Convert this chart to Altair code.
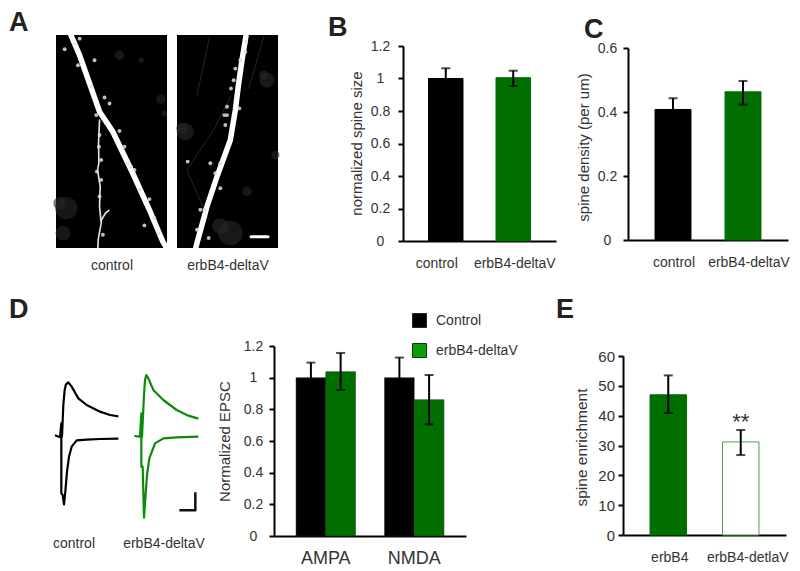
import altair as alt
import pandas as pd

FONT = "Liberation Sans"
TXT = "#333333"
GREEN = "#006f00"
W, H = 784, 559

# ---------- panel A: micrographs (zoomed picture units) ----------
a1_frame_x, a1_frame_y = [169, 503], [745, 104]
a1_main_x = [212, 240, 270, 300, 340, 400, 450, 490, 505]
a1_main_y = [100, 165, 250, 335, 395, 520, 630, 725, 750]
a1_thin_x = [300, 297, 298, 294, 302, 300, 305, 296, 295]
a1_thin_y = [360, 430, 490, 510, 560, 620, 670, 720, 745]
a1_branch_x = [305, 318, 328]
a1_branch_y = [662, 640, 632]
a1_sp_x = [195, 240, 285, 235, 315, 290, 360, 385, 405, 450, 465, 435, 300, 305, 305, 300, 310, 420, 375, 275, 330, 225, 395, 478, 298, 292]
a1_sp_y = [147, 115, 180, 195, 292, 345, 393, 490, 510, 598, 655, 677, 405, 480, 540, 590, 705, 570, 440, 260, 310, 130, 500, 700, 440, 515]
a1_blob_x = [200, 485, 360, 190, 425, 180, 495]
a1_blob_y = [625, 297, 165, 700, 180, 610, 340]
a1_blob_s = [500, 90, 90, 220, 30, 160, 30]

a2_frame_x, a2_frame_y = [530, 833], [745, 104]
a2_main_x = [738, 725, 715, 705, 690, 650, 620, 590, 585]
a2_main_y = [100, 180, 250, 330, 420, 530, 620, 730, 750]
a2_sp_x = [738, 735, 720, 705, 692, 680, 680, 675, 717, 660, 645, 660, 612, 590, 625, 562, 630, 700, 672, 600]
a2_sp_y = [125, 155, 180, 205, 265, 320, 345, 375, 325, 490, 520, 565, 630, 690, 715, 485, 490, 240, 345, 630]
a2_blob_x = [555, 800, 690, 740, 825, 790, 545, 660]
a2_blob_y = [395, 240, 700, 575, 465, 225, 385, 680]
a2_blob_s = [300, 220, 600, 90, 70, 90, 130, 260]
a2_f1_x, a2_f1_y = [628, 590], [110, 285]
a2_f2_x, a2_f2_y = [690, 640, 560], [290, 390, 510]
a2_f3_x, a2_f3_y = [790, 745], [110, 265]
a2_f4_x, a2_f4_y = [560, 625], [510, 660]
a2_bar_x, a2_bar_y = [752, 803], [711, 711]

# ---------- panel B / C ----------
cond = ["control", "erbB4-deltaV"]
b_val, b_lo, b_hi = [1.0, 1.005], [0.94, 0.954], [1.063, 1.048]
c_val, c_lo, c_hi = [0.408, 0.463], [0.373, 0.423], [0.443, 0.497]
b_ticks = [0, 0.2, 0.4, 0.6, 0.8, 1, 1.2]
c_ticks = [0, 0.2, 0.4, 0.6]

# ---------- panel D traces (zoomed picture units) ----------
tr_ctl_up_x = [165, 180, 184, 186, 190, 194, 198, 205, 215, 235, 260, 300, 330, 355]
tr_ctl_up_y = [421, 427, 385, 425, 330, 285, 268, 262, 275, 310, 330, 350, 360, 364]
tr_ctl_dn_x = [184, 184, 188, 192, 196, 201, 207, 215, 230, 260, 300, 355]
tr_ctl_dn_y = [425, 595, 600, 628, 590, 530, 485, 455, 436, 434, 432, 431]
tr_erb_up_x = [403, 420, 424, 426, 432, 435, 439, 445, 460, 490, 530, 565, 595]
tr_erb_up_y = [423, 425, 355, 425, 300, 255, 240, 250, 285, 315, 345, 362, 371]
tr_erb_dn_x = [424, 424, 428, 432, 436, 441, 448, 465, 490, 530, 595]
tr_erb_dn_y = [425, 515, 515, 668, 610, 540, 490, 445, 430, 427, 425]
sc_x, sc_y = [538, 586, 586], [646, 646, 592]

# ---------- panel D bars ----------
receptor = ["AMPA", "AMPA", "NMDA", "NMDA"]
d_group = ["Control", "erbB4-deltaV", "Control", "erbB4-deltaV"]
d_val = [1.0, 1.038, 1.0, 0.861]
d_lo = [0.905, 0.922, 0.875, 0.705]
d_hi = [1.095, 1.156, 1.127, 1.017]

# ---------- panel E ----------
e_cat = ["erbB4", "erbB4-detlaV"]
e_val, e_lo, e_hi = [47.0, 31.2], [40.9, 26.8], [53.5, 35.2]
e_ticks = [0, 10, 20, 30, 40, 50, 60]
star_y = [39]

blank = pd.DataFrame({"a": [0]})


def px(p):
    """page x/y position -> view position (8px page margin)"""
    return p - 8


def label(text, x, y, size=14, color=TXT, weight="normal", align="center", baseline="middle"):
    return alt.Chart(blank).mark_text(text=text, font=FONT, fontSize=size, color=color,
                                      fontWeight=weight, align=align, baseline=baseline).encode(
        x=alt.value(px(x)), y=alt.value(px(y)))


def letter(text, x, y, size=27):
    return label(text, x, y, size=size, color="#222222", weight="bold", align="left", baseline="alphabetic")


def micro(xdom, ydom, xr, yr, title, series):
    xs = alt.Scale(domain=xdom, nice=False, zero=False, range=[px(xr[0]), px(xr[1])])
    ys = alt.Scale(domain=ydom, nice=False, zero=False, range=[px(yr[0]), px(yr[1])])
    frame = pd.DataFrame({"x": [xdom[0]], "x2": [xdom[1]], "y": [ydom[0]], "y2": [ydom[1]]})
    layers = [alt.Chart(frame).mark_rect(color="black").encode(
        x=alt.X("x:Q", scale=xs, axis=alt.Axis(orient="bottom", title=title, labels=False, ticks=False, domain=False, grid=False,
                                               offset=px(yr[0]) - H, titlePadding=10, titleFont=FONT, titleColor=TXT,
                                               titleFontSize=14, titleFontWeight="normal")),
        x2="x2:Q", y=alt.Y("y:Q", scale=ys, axis=None), y2="y2:Q")]
    for kind, xv, yv, extra in series:
        d = pd.DataFrame({"x": xv, "y": yv, "i": range(len(xv))})
        if kind == "line":
            m = alt.Chart(d).mark_line(color=extra[0], strokeWidth=extra[1], clip=True, strokeCap="round", opacity=extra[2])
            enc = dict(order="i:Q")
        else:
            d["s"] = extra[1]
            m = alt.Chart(d).mark_circle(color=extra[0], opacity=extra[2], clip=True)
            enc = dict(size=alt.Size("s:Q", scale=None, legend=None))
        layers.append(m.encode(x=alt.X("x:Q", scale=xs), y=alt.Y("y:Q", scale=ys, axis=None), **enc))
    return layers


a1_series = [
    ("pts", a1_blob_x, a1_blob_y, ("#262626", a1_blob_s, 0.6)),
    ("line", a1_main_x, a1_main_y, ("white", 5.5, 1)),
    ("line", a1_thin_x, a1_thin_y, ("#e8e8e8", 1.6, 1)),
    ("line", a1_branch_x, a1_branch_y, ("#e8e8e8", 1.6, 1)),
    ("pts", a1_sp_x, a1_sp_y, ("#e0e0e0", [15] * len(a1_sp_x), 0.85)),
]
a2_series = [
    ("line", a2_f1_x, a2_f1_y, ("#262626", 1, 1)),
    ("line", a2_f2_x, a2_f2_y, ("#262626", 1, 1)),
    ("line", a2_f3_x, a2_f3_y, ("#262626", 1, 1)),
    ("line", a2_f4_x, a2_f4_y, ("#262626", 1, 1)),
    ("pts", a2_blob_x, a2_blob_y, ("#282828", a2_blob_s, 0.6)),
    ("line", a2_main_x, a2_main_y, ("white", 5.5, 1)),
    ("pts", a2_sp_x, a2_sp_y, ("#e0e0e0", [15] * len(a2_sp_x), 0.85)),
    ("line", a2_bar_x, a2_bar_y, ("white", 3, 1)),
]
panel_a1 = alt.layer(*micro(a1_frame_x, a1_frame_y, (56, 167), (248, 35), "control", a1_series))
panel_a2 = alt.layer(*micro(a2_frame_x, a2_frame_y, (177, 278), (248, 35), "erbB4-deltaV", a2_series))


def y_axis(ax_x, ticks, title, tx, ty, pad, align="center", size=14, tsize=15, fmt="~g"):
    return alt.Axis(orient="left", values=ticks, title=title, format=fmt, grid=False, tickSize=5, tickWidth=2,
                    offset=-px(ax_x), tickColor="black", domainColor="black", domainWidth=2, labelAlign=align,
                    labelBaseline="middle", labelPadding=pad, labelFontSize=size, labelFont=FONT,
                    labelColor=TXT, titleFont=FONT, titleFontSize=tsize, titleFontWeight="normal",
                    titleColor=TXT, titleX=tx, titleY=px(ty), titleBaseline="middle", labelFlush=False,
                    labelOverlap=False)


def x_axis(ax_y, offset_expr, size=14, pad=15):
    return alt.Axis(orient="bottom", title=None, ticks=False, grid=False, labelAngle=0, domainColor="black", domainWidth=2,
                    offset=px(ax_y) - H, labelFontSize=size, labelFont=FONT, labelColor=TXT, labelPadding=pad,
                    labelOffset=alt.expr(offset_expr) if offset_expr else 0)


def simple_bars(cats, val, lo, hi, ymax, xr, yr, ticks, title, tx, ty, pad, pi, po, off, fills, strokes,
                align="center", size=14, tsize=15, fmt="~g"):
    d = pd.DataFrame({"c": cats, "v": val, "lo": lo, "hi": hi})
    xs = alt.Scale(domain=cats, paddingInner=pi, paddingOuter=po, range=[px(xr[0]), px(xr[1])])
    ys = alt.Scale(domain=[0, ymax], nice=False, range=[px(yr[0]), px(yr[1])])
    base = alt.Chart(d)
    bars = base.mark_bar(strokeWidth=1).encode(
        x=alt.X("c:N", sort=cats, scale=xs, axis=x_axis(yr[0], off)),
        y=alt.Y("v:Q", scale=ys, axis=y_axis(xr[0], ticks, title, tx, ty, pad, align, size, tsize, fmt)),
        fill=alt.Fill("c:N", scale=alt.Scale(domain=cats, range=fills), legend=None),
        stroke=alt.Stroke("c:N", scale=alt.Scale(domain=cats, range=strokes), legend=None),
    )
    xe = alt.X("c:N", sort=cats, scale=xs)
    ye = lambda f: alt.Y(f, scale=ys)
    rule = base.mark_rule(color="black", strokeWidth=2).encode(x=xe, y=ye("lo:Q"), y2="hi:Q")
    cap1 = base.mark_tick(color="black", size=9, thickness=2).encode(x=xe, y=ye("lo:Q"))
    cap2 = base.mark_tick(color="black", size=9, thickness=2).encode(x=xe, y=ye("hi:Q"))
    return [bars, rule, cap1, cap2], xe, ye


b_layers, _, _ = simple_bars(cond, b_val, b_lo, b_hi, 1.2, (403, 556), (241, 46), b_ticks, "normalized spine size",
                             -47, 143, 18, 0.489, 0.378, "datum.value === 'control' ? -9 : 1.5",
                             ["black", GREEN], ["black", GREEN])
panel_b = alt.layer(*b_layers)

c_layers, _, _ = simple_bars(cond, c_val, c_lo, c_hi, 0.6, (628, 788), (240, 48), c_ticks, "spine density (per um)",
                             -45, 147, 16, 0.486, 0.386, "datum.value === 'control' ? 1 : 6",
                             ["black", GREEN], ["black", GREEN])
panel_c = alt.layer(*c_layers)

# traces
tx_scale = alt.Scale(domain=[168, 597], nice=False, zero=False, range=[px(56), px(199)])
ty_scale = alt.Scale(domain=[765, 153], nice=False, zero=False, range=[px(550), px(346)])


def trace(xv, yv, color, width=2.2):
    d = pd.DataFrame({"x": xv, "y": yv, "i": range(len(xv))})
    return alt.Chart(d).mark_line(color=color, strokeWidth=width, strokeJoin="round").encode(
        x=alt.X("x:Q", scale=tx_scale, axis=None), y=alt.Y("y:Q", scale=ty_scale, axis=None), order="i:Q")


panel_tr = alt.layer(
    trace(tr_ctl_up_x, tr_ctl_up_y, "black"),
    trace(tr_ctl_dn_x, tr_ctl_dn_y, "black"),
    trace(tr_erb_up_x, tr_erb_up_y, "#0b8a0b"),
    trace(tr_erb_dn_x, tr_erb_dn_y, "#0b8a0b"),
    trace(sc_x, sc_y, "#111111", 2.5),
)

# D bars
groups = ["Control", "erbB4-deltaV"]
dd = pd.DataFrame({"r": receptor, "g": d_group, "v": d_val, "lo": d_lo, "hi": d_hi})
d_xs = alt.Scale(domain=["AMPA", "NMDA"], paddingInner=0.328, paddingOuter=0.249, range=[px(274), px(466)])
d_off = alt.XOffset("g:N", scale=alt.Scale(domain=groups, paddingInner=0, paddingOuter=0))
d_ys = alt.Scale(domain=[0, 1.2], nice=False, range=[px(536), px(346)])
d_base = alt.Chart(dd)
d_bars = d_base.mark_bar(strokeWidth=1, stroke="#113311", strokeOpacity=0.5).encode(
    x=alt.X("r:N", scale=d_xs, axis=x_axis(536, None, size=18, pad=13)), xOffset=d_off,
    y=alt.Y("v:Q", scale=d_ys, axis=y_axis(274, [0, 0.2, 0.4, 0.6, 0.8, 1, 1.2], "Normalized EPSC", -50, 441, 16)),
    fill=alt.Fill("g:N", scale=alt.Scale(domain=groups, range=["black", GREEN]), legend=None),
)
d_x = alt.X("r:N", scale=d_xs)
d_rule = d_base.mark_rule(color="black", strokeWidth=2).encode(x=d_x, xOffset=d_off, y=alt.Y("lo:Q", scale=d_ys), y2="hi:Q")
d_c1 = d_base.mark_tick(color="black", size=9, thickness=2).encode(x=d_x, xOffset=d_off, y=alt.Y("lo:Q", scale=d_ys))
d_c2 = d_base.mark_tick(color="black", size=9, thickness=2).encode(x=d_x, xOffset=d_off, y=alt.Y("hi:Q", scale=d_ys))
d_leg = alt.Chart(pd.DataFrame({"g": groups})).mark_square(opacity=0).encode(
    color=alt.Color("g:N", scale=alt.Scale(domain=groups, range=["black", "#08a008"]),
                    legend=alt.Legend(title=None, orient="none", legendX=px(412), legendY=px(313), symbolType="square",
                                      symbolSize=196, symbolOpacity=1, symbolStrokeColor="#143314", symbolStrokeWidth=1,
                                      labelFont=FONT, labelFontSize=14, labelColor=TXT, labelOffset=9, rowPadding=11)))
panel_d = alt.layer(d_bars, d_rule, d_c1, d_c2)

# E
e_layers, e_x, e_y = simple_bars(e_cat, e_val, e_lo, e_hi, 60, (623, 786), (535, 356), e_ticks, "spine enrichment",
                                 -42, 447, 3.5, 0.497, 0.373, "datum.value === 'erbB4' ? 1.5 : 7",
                                 [GREEN, "white"], [GREEN, "#4fa04f"], align="right", size=15, tsize=15.5, fmt="d")
e_star = alt.Chart(pd.DataFrame({"c": [e_cat[1]], "y": star_y})).mark_text(
    text="**", font=FONT, fontSize=22, color=TXT, dy=3).encode(x=e_x, y=e_y("y:Q"))
panel_e = alt.layer(*e_layers, e_star)

texts = alt.layer(
    letter("A", 9, 31, 27), letter("B", 328, 36), letter("C", 584, 38), letter("D", 9, 318), letter("E", 556, 318),
    label("control", 74, 544), label("erbB4-deltaV", 164, 544),
)

chart = alt.layer(panel_a1, panel_a2, panel_b, panel_c, panel_tr, panel_d, panel_e, d_leg, texts).resolve_scale(
    x="independent", y="independent", fill="independent", stroke="independent"
).resolve_axis(x="independent", y="independent").properties(
    width=W, height=H, padding=0, autosize=alt.AutoSizeParams(type="none")
).configure_view(stroke=None).configure_axis(grid=False)

chart.save("out.html", embed_options={"renderer": "svg", "actions": False})
